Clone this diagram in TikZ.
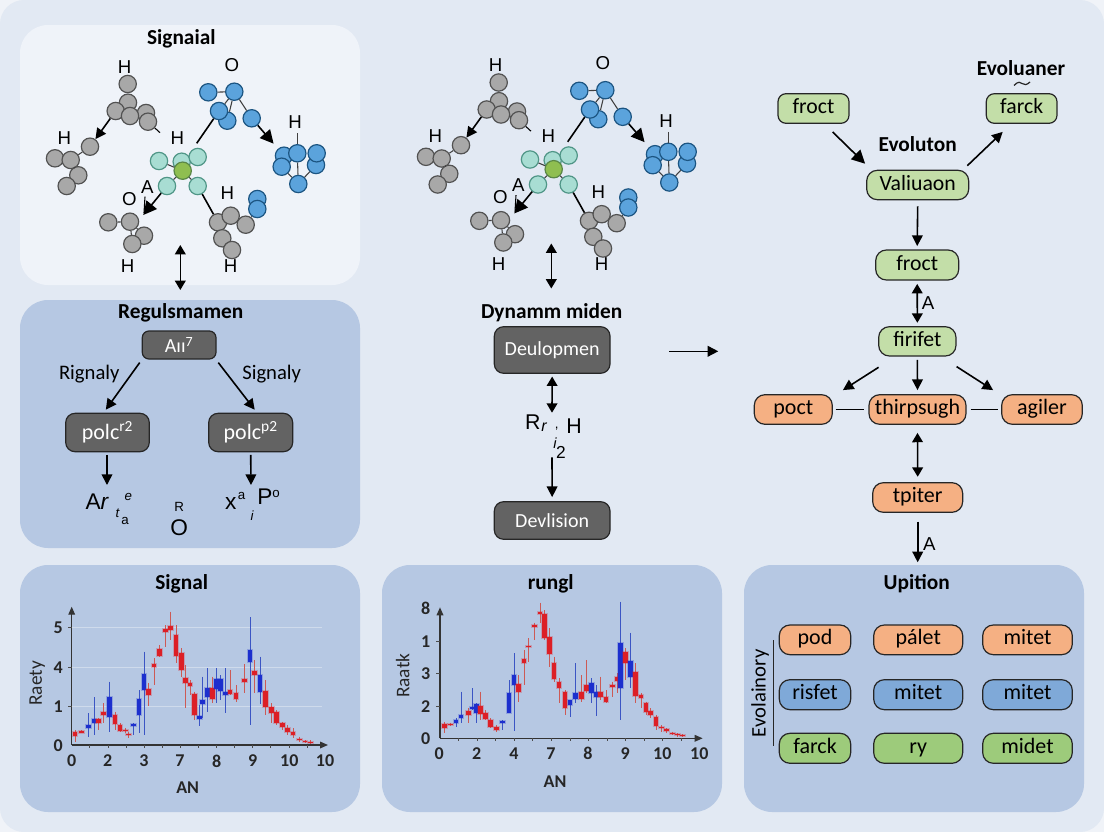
\documentclass[tikz,border=0pt]{standalone}
\usepackage{fontspec}
\setmainfont{Carlito}
\newfontfamily\arialf{Liberation Sans}
\usetikzlibrary{arrows.meta,calc}
\definecolor{pagebg}{HTML}{E2E9F3}
\definecolor{pagecorner}{HTML}{F0F3F8}
\definecolor{panellight}{HTML}{EFF3F9}
\definecolor{paneldark}{HTML}{B6C8E3}
\definecolor{boxgray}{HTML}{636363}
\definecolor{lgreen}{HTML}{C3DEA8}
\definecolor{mgreen}{HTML}{9DCB7B}
\definecolor{lorange}{HTML}{F5B083}
\definecolor{lblue}{HTML}{7FA9D8}
\definecolor{bodyr}{HTML}{DC1F26}
\definecolor{bodyb}{HTML}{1C2FCE}
\definecolor{wickr}{HTML}{CC5A55}
\definecolor{wickb}{HTML}{3B55C4}
\tikzset{
  x=0.75pt,y=-0.75pt,
  lw/.style={line width=1.2pt,black},
  arr/.style={lw,-{Triangle[width=8pt,length=8pt]}},
  bigarr/.style={lw,-{Triangle[width=10pt,length=10pt]}},
  dbl/.style={lw,{Triangle[width=8pt,length=7pt]}-{Triangle[width=8pt,length=7pt]}},
  plain/.style={lw},
  thinbond/.style={line width=0.8pt,black!75},
  panel/.style={rectangle,rounded corners=21pt,inner sep=0pt},
  atomn/.style={circle,minimum size=13pt,inner sep=0pt,line width=0.9pt},
  gatom/.style={atomn,fill=black!34,draw=black!68},
  batom/.style={atomn,fill={rgb,255:red,91;green,163;blue,220},draw={rgb,255:red,28;green,85;blue,130}},
  tatom/.style={atomn,fill={rgb,255:red,168;green,221;blue,211},draw={rgb,255:red,80;green,150;blue,135}},
  ngatom/.style={atomn,fill={rgb,255:red,143;green,190;blue,80},draw={rgb,255:red,90;green,135;blue,70}},
  elem/.style={font=\arialf\fontsize{14}{15}\selectfont,inner sep=0pt},
  bigel/.style={font=\arialf\fontsize{17}{18}\selectfont,inner sep=0pt},
  smallel/.style={font=\arialf\fontsize{10}{11}\selectfont,inner sep=0pt},
  ttl/.style={font=\fontsize{16}{18}\selectfont\bfseries,inner sep=0pt},
  tick/.style={font=\fontsize{13.5}{15}\selectfont\bfseries,text=black!85,inner sep=0pt},
  axl/.style={font=\fontsize{14.5}{16}\selectfont,text=black!85,inner sep=0pt},
  anl/.style={font=\fontsize{13.5}{15}\selectfont\bfseries,text=black!85,inner sep=0pt},
  side/.style={font=\fontsize{15.5}{17}\selectfont,inner sep=0pt},
  graybox/.style={rectangle,rounded corners=5pt,fill=boxgray,draw=black!85,line width=0.9pt,text=white,inner sep=0pt,font=\fontsize{15}{17}\selectfont},
  gbox/.style={rectangle,rounded corners=6pt,fill=lgreen,draw=black!85,line width=0.9pt,inner sep=0pt,font=\fontsize{16.3}{18}\selectfont,text height=10.5pt,text depth=3pt},
  obox/.style={rectangle,rounded corners=8pt,fill=lorange,draw=black!85,line width=0.9pt,inner sep=0pt,font=\fontsize{16.5}{18}\selectfont,text height=10.5pt,text depth=3pt},
  pobox/.style={obox},
  pbbox/.style={obox,fill=lblue},
  pgbox/.style={obox,fill=mgreen},
}
% box given by its corners: name, x1, y1, x2, y2, style, text
\newcommand{\bx}[7]{\node[#6,minimum width={(#4-#2)*0.75pt},minimum height={(#5-#3)*0.75pt}] (#1) at ({(#2+#4)/2},{(#3+#5)/2}) {#7};}
\newcommand{\atomat}[4]{\node[#2] (#1) at (#3,#4) {};}
% the molecule group, prefix #1
\newcommand{\molset}[1]{%
  \atomat{#1a2}{gatom}{128}{102.7}
  \atomat{#1a1}{gatom}{127.7}{84}
  \atomat{#1a5}{gatom}{146}{113}
  \atomat{#1a3}{gatom}{115.7}{111}
  \atomat{#1a4}{gatom}{130}{116}
  \atomat{#1a6}{gatom}{148}{121.7}
  \coordinate (#1at) at (160,132.7);
  \draw[thinbond,black] (#1a6) -- (#1at);
  \atomat{#1b1}{gatom}{90}{146.7}
  \atomat{#1b2}{gatom}{55}{158.3}
  \atomat{#1b3}{gatom}{70.7}{160}
  \atomat{#1b4}{gatom}{78.3}{175.3}
  \atomat{#1b5}{gatom}{66.7}{186}
  \draw[thinbond] (#1b1) -- (#1b3);
  \draw[thinbond] (#1b3) -- (#1b4);
  \draw[arr] (#1a3) -- (#1b1);
  \atomat{#1c1}{batom}{208.3}{92.3}
  \atomat{#1c2}{batom}{234.3}{91.7}
  \atomat{#1c4}{batom}{227.3}{120.7}
  \atomat{#1c3}{batom}{219}{111}
  \atomat{#1c5}{batom}{251.7}{118.3}
  \draw[thinbond] (#1c1) -- (#1c2);
  \draw[thinbond] (#1c2) -- (#1c3);
  \draw[thinbond] (#1c2) -- (#1c4);
  \draw[thinbond] (#1c2) -- (#1c5);
  \atomat{#1d1}{batom}{284}{155.7}
  \atomat{#1d3}{batom}{316}{165}
  \atomat{#1d4}{batom}{281.7}{166.7}
  \atomat{#1d5}{batom}{316.7}{153.3}
  \atomat{#1d2}{batom}{297.3}{153.3}
  \atomat{#1d6}{batom}{298.3}{184}
  \coordinate (#1dt) at (297.3,133.3);
  \draw[thinbond] (#1dt) -- (#1d2);
  \draw[thinbond] (#1d2) -- (#1d6);
  \draw[thinbond] (#1d4) -- (#1d6);
  \draw[thinbond] (#1d3) -- (#1d6);
  \draw[bigarr,shorten >=5pt] (#1c5) -- (#1d1);
  \atomat{#1t1}{tatom}{159}{161}
  \atomat{#1t2}{tatom}{181.7}{161.7}
  \atomat{#1t3}{tatom}{197.7}{157}
  \atomat{#1t5}{tatom}{167}{186}
  \atomat{#1t6}{tatom}{197.7}{186}
  \atomat{#1g}{ngatom}{182.7}{170.7}
  \draw[thinbond] (#1t1) -- (#1g);
  \draw[thinbond] (#1t5) -- (#1g);
  \draw[thinbond] (#1t6) -- (#1g);
  \coordinate (#1ct) at (196.7,143.3);
  \draw[plain] (#1ct) -- (#1c3);
  \atomat{#1e1}{gatom}{108.3}{222.3}
  \atomat{#1e2}{gatom}{130}{221.7}
  \atomat{#1e3}{gatom}{144}{235.7}
  \atomat{#1e4}{gatom}{132.3}{244}
  \draw[thinbond] (#1e1) -- (#1e2);
  \draw[thinbond] (#1e2) -- (#1e3);
  \draw[thinbond] (#1e2) -- (#1e4);
  \coordinate (#1et) at (143.3,215);
  \draw[bigarr] (#1t5) -- (#1et);
  \coordinate (#1at1) at (145,196.7);
  \coordinate (#1at2) at (144,213);
  \draw[thinbond,black] (#1at1) -- (#1at2);
  \atomat{#1f6}{batom}{257.3}{199}
  \atomat{#1f7}{batom}{257.3}{209}
  \atomat{#1f1}{gatom}{218}{222.3}
  \atomat{#1f3}{gatom}{245.7}{224.7}
  \atomat{#1f2}{gatom}{230.7}{215.7}
  \atomat{#1f4}{gatom}{222.3}{238.3}
  \atomat{#1f5}{gatom}{232}{250}
  \draw[thinbond] (#1f3) -- (#1f7);
  \draw[plain] (#1t6) -- (#1f1);
  \node[elem] (#1l1) at (124.7,66.7) {H};
  \node[elem] (#1l2) at (232,65) {O};
  \node[elem] (#1l3) at (64.3,137.7) {H};
  \node[elem] (#1l4) at (177.3,137.7) {H};
  \node[elem] (#1l5) at (295,122.3) {H};
  \node[elem] (#1l6) at (147.3,186.7) {A};
  \node[elem] (#1l7) at (129.3,199) {O};
  \node[elem] (#1l8) at (227.3,193.3) {H};
  \node[elem] (#1l9) at (127.7,266) {H};
  \node[elem] (#1l10) at (230.7,266) {H};
  \coordinate (#1u1) at (180.3,245);
  \coordinate (#1u2) at (180.3,290);
  \draw[dbl] (#1u1) -- (#1u2);
}
% chart candles: x0, y0, list x/wicktop/wickbot/bodytop/bodybot/colour (in 3x crop units)
\newcommand{\candles}[3]{%
  \foreach \cx/\ca/\cb/\cc/\cd/\ck in {#3}{
    \draw[color=wick\ck,line width=0.7pt] ({#1+\cx/3},{#2+\ca/3}) -- ({#1+\cx/3},{#2+\cb/3});
    \fill[color=body\ck,opacity=0.25] ({#1+\cx/3-3.2},{#2+\cc/3-1}) rectangle ({#1+\cx/3+3.2},{#2+\cd/3+1});
    \fill[color=body\ck] ({#1+\cx/3-2.2},{#2+\cc/3}) rectangle ({#1+\cx/3+2.2},{#2+\cd/3});
  }
}
\begin{document}
\begin{tikzpicture}
\useasboundingbox (0,0) rectangle (1104,832);
\fill[pagecorner] (0,0) rectangle (1104,832);
\fill[pagebg,rounded corners=18pt] (0,0) rectangle (1104,832);
% panels
\bx{p1}{20}{25}{360}{285}{panel,fill=panellight}{}
\bx{p2}{20}{300}{360}{548}{panel,fill=paneldark}{}
\bx{p3}{20}{565}{360}{812}{panel,fill=paneldark}{}
\bx{p4}{382}{565}{722}{812}{panel,fill=paneldark}{}
\bx{p5}{744}{565}{1084}{812}{panel,fill=paneldark}{}
% panel 1
\node[ttl] (t1) at (181.3,39.3) {Signaial};
\molset{m}
% second group
\begin{scope}[shift={(371,-1.5)}]
\molset{n}
\end{scope}
% regulation panel
\node[ttl] (t2) at (180.7,312.7) {Regulsmamen};
\bx{ar}{142.3}{331}{216}{359}{graybox}{Aıı\textsuperscript{7}}
\bx{pl}{65.7}{413.3}{149.3}{451.7}{graybox,rounded corners=7pt,font=\fontsize{16.5}{18}\selectfont}{polc\textsuperscript{r2}}
\bx{pr}{208.7}{413.3}{292.7}{451.7}{graybox,rounded corners=7pt,font=\fontsize{16.5}{18}\selectfont}{polc\textsuperscript{p2}}
\node[side] (rig) at (89.3,374) {Rignaly};
\node[side] (sig) at (271.7,374) {Signaly};
\draw[arr] ([shift={(-2,3)}]ar.south west) -- ([shift={(-1.7,-3)}]pl.north);
\draw[arr] ([shift={(1.7,3)}]ar.south east) -- ([shift={(4,-3)}]pr.north);
\coordinate (el) at (107,485);
\coordinate (er) at (251,485);
\draw[arr] ([yshift=-2pt]pl.south) ++(-0.5,0) -- (el);
\draw[arr] ([yshift=-2pt]pr.south) -- (er);
\node[bigel] (l1) at (97.3,501.7) {A\textit{r}};
\node[smallel] (l2) at (128.3,497.3) {\textit{e}};
\node[smallel] (l3) at (117.7,513.3) {\textit{t}};
\node[smallel] (l4) at (125,520.7) {a};
\node[bigel] (l5) at (179.3,527.3) {O};
\node[smallel] (l6) at (179.3,506.7) {R};
\node[bigel] (l7) at (230.7,503.3) {x};
\node[smallel] (l8) at (241.7,496) {a};
\node[smallel] (l9) at (252.3,515.7) {\textit{i}};
\node[bigel] (l10) at (265,496.7) {P};
\node[smallel] (l11) at (276,494) {o};
% centre column
\node[ttl] (t3) at (551.7,312.3) {Dynamm miden};
\bx{dev}{494.3}{326.7}{610}{373.3}{graybox,rounded corners=7pt}{Deulopmen}
\bx{dvl}{494.3}{501.7}{610}{539.3}{graybox,rounded corners=7pt}{Devlision}
\coordinate (d1) at (552,412.7);
\coordinate (d2) at (552,457.3);
\draw[dbl] ([yshift=-2pt]dev.south) -- (d1);
\draw[arr] (d2) -- ([yshift=3pt]dvl.north);
\node[elem,font=\arialf\fontsize{16}{17}\selectfont] (c1) at (532.7,421.7) {R};
\node[elem,font=\arialf\itshape\fontsize{12}{13}\selectfont] (c2) at (544,427) {r};
\node[elem,font=\arialf\fontsize{10}{11}\selectfont] (c3) at (556.7,429) {,};
\node[elem,font=\arialf\fontsize{16}{17}\selectfont] (c4) at (574,425.7) {H};
\node[elem,font=\arialf\itshape\fontsize{11}{12}\selectfont] (c5) at (555,442.7) {i};
\node[elem,font=\arialf\fontsize{13}{14}\selectfont] (c6) at (561,452.3) {2};
\coordinate (h1) at (669.3,351.3);
\coordinate (h2) at (718.3,351.3);
\draw[arr] (h1) -- (h2);
% right column
\bx{f1}{778}{93.7}{849}{123.3}{gbox}{froct}
\bx{f2}{986.3}{93.7}{1057}{123.3}{gbox}{farck}
\node[ttl] (ev1) at (1021,68.5) {Evoluaner};
\draw[line width=0.9pt,black!85] (1014,85.5) .. controls (1018,81) and (1021,82) .. (1022,83.5) .. controls (1024,85.5) and (1027,85) .. (1030,82);
\node[ttl] (ev2) at (917.7,144) {Evoluton};
\bx{val}{866.7}{170.3}{968.7}{199.7}{gbox,rounded corners=8pt}{Valiuaon}
\bx{f3}{875.7}{250}{958.7}{280}{gbox,rounded corners=8pt}{froct}
\bx{fi}{878.7}{326.7}{956}{356}{gbox,rounded corners=8pt}{firifet}
\bx{po}{754.3}{394.7}{832.3}{424.3}{obox}{poct}
\bx{th}{869}{394.7}{966}{424.3}{obox}{thirpsugh}
\bx{ag}{1001.7}{394.7}{1082.3}{424.3}{obox}{agiler}
\bx{tp}{872.7}{482.7}{962.7}{512.3}{obox}{tpiter}
\draw[bigarr] ([shift={(-17,8)}]f1.south east) -- ([shift={(-1,-6)}]val.north west);
\draw[arr] ([shift={(-2,-4)}]val.north east) -- ([shift={(17,8)}]f2.south west);
\draw[arr] ([yshift=-4.5pt]val.south) -- ([yshift=2.5pt]f3.north);
\draw[dbl] ([yshift=-2.5pt]f3.south) -- ([yshift=2.5pt]fi.north);
\draw[arr] ([shift={(0.5,10.7)}]fi.south west) -- ([shift={(10,-4)}]po.north east);
\draw[arr] ([yshift=-2.5pt]fi.south) -- ([yshift=3pt]th.north);
\draw[arr] ([shift={(0,10)}]fi.south east) -- ([shift={(-8,-4)}]ag.north west);
\draw[plain] ([xshift=2pt]po.east) -- ([xshift=-3pt]th.west);
\draw[plain] ([xshift=3pt]th.east) -- ([xshift=-2pt]ag.west);
\draw[dbl] ([yshift=-6pt]th.south) -- ([yshift=4pt]tp.north);
\coordinate (pt) at (917.7,562.3);
\draw[arr] ([yshift=-6.5pt]tp.south) -- (pt);
\node[elem] (a1) at (928,303) {A};
\node[elem] (a2) at (929.3,544.3) {A};
% upition panel
\node[ttl] (t5) at (916.7,584) {Upition};
\bx{u11}{779.3}{625}{850.7}{654.7}{pobox}{pod}
\bx{u12}{873.7}{625}{962.7}{654.7}{pobox}{pálet}
\bx{u13}{982.7}{625}{1072.3}{654.7}{pobox}{mitet}
\bx{u21}{779.3}{679.7}{850.7}{709.7}{pbbox}{risfet}
\bx{u22}{873.7}{679.7}{962.7}{709.7}{pbbox}{mitet}
\bx{u23}{982.7}{679.7}{1072.3}{709.7}{pbbox}{mitet}
\bx{u31}{779.3}{733.3}{850.7}{763.3}{pgbox}{farck}
\bx{u32}{873.7}{733.3}{962.7}{763.3}{pgbox}{ry}
\bx{u33}{982.7}{733.3}{1072.3}{763.3}{pgbox}{midet}
\node[side,rotate=90] (evo) at (760,693.3) {Evolainory};
\coordinate (v1) at (773.7,640);
\coordinate (v2) at (773.7,746);
\draw[line width=0.9pt,black!85] (v1) -- (v2);
% chart 1
\node[ttl] (t6) at (181.7,584) {Signal};
\foreach \gy in {627.7,667.7,706.7}{\draw[white,opacity=0.35,line width=0.6pt] (72,\gy) -- (322,\gy);}
\candles{20}{560}{
165/510/545/517/528/r,185/510/520/512/518/r,205/460/530/495/505/b,222/412/525/478/488/b,235/475/510/478/490/r,
250/430/490/456/466/r,268/365/515/410/470/b,285/455/510/465/492/r,300/490/517/495/513/r,317/505/520/511/514/r,
325/515/535/521/525/r,340/490/525/493/498/b,357/390/520/418/465/b,372/275/525/342/390/b,385/370/438/388/406/r,
402/295/375/312/322/r,419/255/290/268/288/r,436/195/262/207/216/r,452/155/240/198/210/r,468/195/310/225/288/r,
484/265/350/280/330/r,497/315/445/353/368/r,510/360/405/368/378/r,524/395/480/402/465/r,538/435/498/468/478/b,
547/350/475/420/432/b,562/325/455/384/412/b,577/350/430/384/418/r,590/325/430/356/388/b,602/345/420/356/392/b,
616/325/460/396/406/b,630/330/405/390/402/r,648/375/425/400/416/r,673/312/400/356/366/r,690/172/495/270/306/b,
703/300/400/332/345/r,720/290/432/344/395/b,737/360/465/392/442/r,755/430/490/442/458/r,770/450/495/456/490/r,
788/485/510/490/502/r,803/495/525/505/515/r,819/505/535/515/525/r,838/530/545/536/540/r,855/540/550/543/546/r,872/540/552/545/548/r}
\coordinate (c1o) at (71.7,745);
\coordinate (c1x) at (328,745);
\coordinate (c1y) at (71.7,606.7);
\draw[line width=0.9pt,black!80,-{Triangle[width=5pt,length=6pt]}] (c1o) -- (c1x);
\draw[line width=0.9pt,black!80,-{Triangle[width=5pt,length=6pt]}] (c1o) -- (c1y);
\foreach \i in {1,...,13}{\draw[line width=0.5pt,black!70] ({71.7+\i*18.1},745) -- ({71.7+\i*18.1},748);}
\foreach \gy in {627.7,667.7,706.7}{\draw[line width=0.6pt,black!70] (68,\gy) -- (72,\gy);}
\foreach \nm/\px/\tx in {a/71.7/0,b/107.7/2,c/144/3,d/180/7,e/216.7/8,f/252.7/9,g/289.3/10,h/325/10}{\node[tick] (cx\nm) at (\px,761) {\tx};}
\foreach \nm/\py/\tx in {a/627.7/5,b/667.7/4,c/706.7/1,d/746/0}{\node[tick] (cy\nm) at (58.3,\py) {\tx};}
\node[anl] (can) at (187.7,787.7) {AN};
\node[axl,rotate=90] (cyl) at (37.3,683.3) {Raety};
% chart 2
\node[ttl] (t7) at (550.7,584.3) {rungl};
\candles{380}{560}{
193/485/520/492/503/r,212/488/498/491/494/r,228/475/500/480/490/b,243/395/490/465/475/b,265/445/490/452/465/r,
278/385/450/441/446/b,290/430/490/433/460/b,302/395/480/437/462/r,317/450/480/458/478/r,332/475/505/480/500/r,
350/495/517/500/510/r,367/480/510/482/490/b,387/360/455/398/458/b,402/280/512/345/375/b,415/345/425/372/396/r,
432/270/375/298/310/r,446/235/305/258/262/r,463/188/240/195/202/r,480/128/190/155/162/r,493/150/240/162/235/r,
508/205/320/232/283/r,522/290/365/310/358/r,537/355/430/365/385/r,555/390/465/396/445/r,570/420/472/420/435/b,
587/310/430/400/416/b,605/345/425/395/418/r,619/300/400/375/392/r,634/355/430/368/400/b,650/375/468/396/412/b,
662/350/420/395/412/r,678/390/430/412/425/r,697/365/410/375/382/r,712/340/400/352/362/r,722/125/480/250/385/b,
737/265/360/275/308/r,752/218/385/302/352/b,767/310/430/335/408/r,783/400/445/405/415/r,798/425/465/430/455/r,
812/445/475/452/464/r,828/465/510/472/497/r,845/495/515/500/505/r,860/505/520/508/512/r,877/515/525/518/521/r,
893/520/530/522/525/r,908/522/530/524/527/r}
\coordinate (c2o) at (440,738.3);
\coordinate (c2x) at (702.7,738.3);
\coordinate (c2y) at (440,607.3);
\draw[line width=0.9pt,black!80,-{Triangle[width=5pt,length=6pt]}] (c2o) -- (c2x);
\draw[line width=0.9pt,black!80,-{Triangle[width=5pt,length=6pt]}] (c2o) -- (c2y);
\foreach \i in {1,...,13}{\draw[line width=0.5pt,black!70] ({440+\i*18.55},738.3) -- ({440+\i*18.55},741);}
\foreach \gy in {641.7,673.3,706.7}{\draw[line width=0.6pt,black!70] (436,\gy) -- (440,\gy);}
\foreach \nm/\px/\tx in {a/439.3/0,b/476.7/2,c/514/4,d/551/7,e/588/8,f/625.3/9,g/662.3/10,h/699.3/10}{\node[tick] (dx\nm) at (\px,753.3) {\tx};}
\foreach \nm/\py/\tx in {a/608.3/8,b/641.7/1,c/673.3/3,d/706.7/2,e/739/0}{\node[tick] (dy\nm) at (425.7,\py) {\tx};}
\node[anl] (dan) at (555,781.7) {AN};
\node[axl,rotate=90] (dyl) at (402.7,675.7) {Raatk};
\end{tikzpicture}
\end{document}
